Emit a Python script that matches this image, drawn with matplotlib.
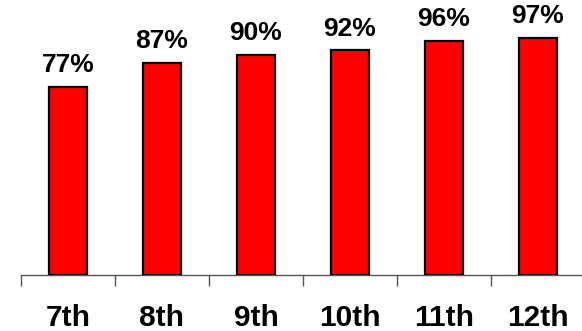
import matplotlib.pyplot as plt
import numpy as np

# grades and share of students (%)
grades = ["7th", "8th", "9th", "10th", "11th", "12th"]
values = [77, 87, 90, 92, 96, 97]

plt.rcParams['font.family'] = ['Liberation Sans', 'DejaVu Sans']

fig = plt.figure(figsize=(5.82, 3.31), dpi=100)
# axes: left at x=21px, bottom at y=275px, one category = 94px
ax = fig.add_axes([21 / 582, (331 - 275) / 331, 564 / 582, 275 / 331])

x = np.arange(len(grades))
bars = ax.bar(x, values, width=0.41, color='#ff0000', edgecolor='black', linewidth=1.6, zorder=3)

for xi, v in zip(x, values):
    ax.text(xi, v + 4, f"{v}%", ha='center', va='bottom', fontsize=19, fontweight='bold')

ax.set_xlim(-0.5, len(grades) - 0.5)
ax.set_ylim(0, 112.6)

for s in ['top', 'right', 'left']:
    ax.spines[s].set_visible(False)
ax.spines['bottom'].set_color('#555555')
ax.spines['bottom'].set_linewidth(1)
ax.set_yticks([])

# ticks at category boundaries, labels at centres
ax.set_xticks(np.arange(len(grades) + 1) - 0.5)
ax.set_xticklabels([])
ax.tick_params(axis='x', which='major', direction='out', length=8, width=1, color='#555555')
ax.set_xticks(x, minor=True)
ax.set_xticklabels(grades, minor=True, fontsize=21.5, fontweight='bold')
ax.tick_params(axis='x', which='minor', length=0, pad=21)

fig.savefig("out.png", dpi=100)
